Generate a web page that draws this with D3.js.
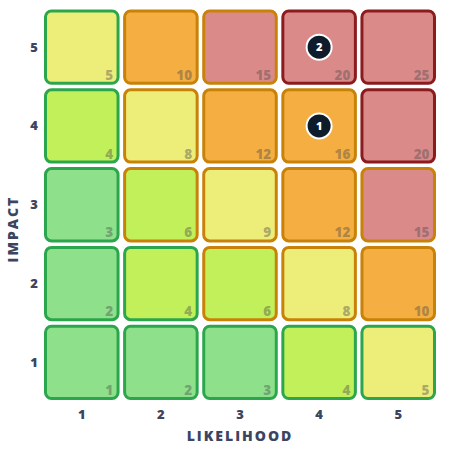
<!DOCTYPE html>
<meta charset="utf-8">
<style>
    body { margin: 0; background: #fff; }
    text { font-family: "Open Sans", sans-serif; font-weight: 700; }
    .tick-label { fill: #3b4560; font-size: 13px; font-weight: 800; }
    .axis-title { fill: #3b4560; font-size: 14px; letter-spacing: 2px; font-weight: 800; }
    .score { fill: #4a4a4a; fill-opacity: 0.42; font-size: 13.5px; font-weight: 800; }
</style>

<body>
    <svg width="458" height="450"></svg>
    <script src="https://d3js.org/d3.v7.min.js"></script>
    <script>
        // axes
        var likelihood = [1, 2, 3, 4, 5];
        var impact = [5, 4, 3, 2, 1];

        // fill level per cell, rows = impact 5..1, cols = likelihood 1..5
        // 0 low green, 1 lime, 2 yellow, 3 orange, 4 red
        var fillLevels = [
            [2, 3, 4, 4, 4],
            [1, 2, 3, 3, 4],
            [0, 1, 2, 3, 4],
            [0, 1, 1, 2, 3],
            [0, 0, 0, 1, 2]
        ];
        // border group per cell: 0 green, 1 amber, 2 dark red
        var borderLevels = [
            [0, 1, 1, 2, 2],
            [0, 1, 1, 1, 2],
            [0, 1, 1, 1, 1],
            [0, 0, 1, 1, 1],
            [0, 0, 0, 0, 0]
        ];

        var markerIds = [1, 2];
        var markerLikelihood = [4, 4];
        var markerImpact = [4, 5];

        var fillColors = ["#8ee08a", "#c1f05a", "#eded7a", "#f5ae42", "#db8a8a"];
        var borderColors = ["#2ca64c", "#c98208", "#8c1b1e"];

        var svg = d3.select("svg");

        var x = d3.scaleBand().domain(likelihood).range([44, 436]).paddingInner(0.045).paddingOuter(0);
        var y = d3.scaleBand().domain(impact).range([9.5, 400]).paddingInner(0.045).paddingOuter(0);

        var cells = [];
        impact.forEach(function (imp, r) {
            likelihood.forEach(function (lk, c) {
                cells.push({ l: lk, i: imp, fill: fillLevels[r][c], border: borderLevels[r][c] });
            });
        });

        var sw = 3;
        var g = svg.append("g");

        g.selectAll(".cell")
            .data(cells)
            .enter()
            .append("rect")
            .attr("class", "cell")
            .attr("x", function (d) { return x(d.l) + sw / 2; })
            .attr("y", function (d) { return y(d.i) + sw / 2; })
            .attr("width", x.bandwidth() - sw)
            .attr("height", y.bandwidth() - sw)
            .attr("rx", 6)
            .attr("fill", function (d) { return fillColors[d.fill]; })
            .attr("stroke", function (d) { return borderColors[d.border]; })
            .attr("stroke-width", sw);

        g.selectAll(".score")
            .data(cells)
            .enter()
            .append("text")
            .attr("class", "score")
            .attr("x", function (d) { return x(d.l) + x.bandwidth() - 6.5; })
            .attr("y", function (d) { return y(d.i) + y.bandwidth() - 5; })
            .attr("text-anchor", "end")
            .text(function (d) { return d.l * d.i; });

        // tick labels
        svg.selectAll(".xtick")
            .data(likelihood)
            .enter()
            .append("text")
            .attr("class", "tick-label")
            .attr("x", function (d) { return x(d) + x.bandwidth() / 2; })
            .attr("y", 419)
            .attr("text-anchor", "middle")
            .text(function (d) { return d; });

        svg.selectAll(".ytick")
            .data(impact)
            .enter()
            .append("text")
            .attr("class", "tick-label")
            .attr("x", 34)
            .attr("y", function (d) { return y(d) + y.bandwidth() / 2 + 4.5; })
            .attr("text-anchor", "middle")
            .text(function (d) { return d; });

        svg.append("text")
            .attr("class", "axis-title")
            .attr("x", 240)
            .attr("y", 441)
            .attr("text-anchor", "middle")
            .text("LIKELIHOOD");

        svg.append("text")
            .attr("class", "axis-title")
            .attr("transform", "translate(18,229) rotate(-90)")
            .attr("text-anchor", "middle")
            .text("IMPACT");

        // risk markers
        var markers = markerIds.map(function (id, k) {
            return { id: id, l: markerLikelihood[k], i: markerImpact[k] };
        });

        var mg = svg.selectAll(".marker")
            .data(markers)
            .enter()
            .append("g")
            .attr("class", "marker")
            .attr("transform", function (d) {
                return "translate(" + (x(d.l) + x.bandwidth() / 2) + "," + (y(d.i) + y.bandwidth() / 2) + ")";
            });

        mg.append("circle")
            .attr("r", 12.5)
            .attr("fill", "#0e1b2b")
            .attr("stroke", "#fff")
            .attr("stroke-width", 2);

        mg.append("text")
            .attr("text-anchor", "middle")
            .attr("dy", "0.36em")
            .attr("fill", "#fff")
            .style("font-size", "11px")
            .style("font-weight", 800)
            .text(function (d) { return d.id; });
    </script>
</body>
